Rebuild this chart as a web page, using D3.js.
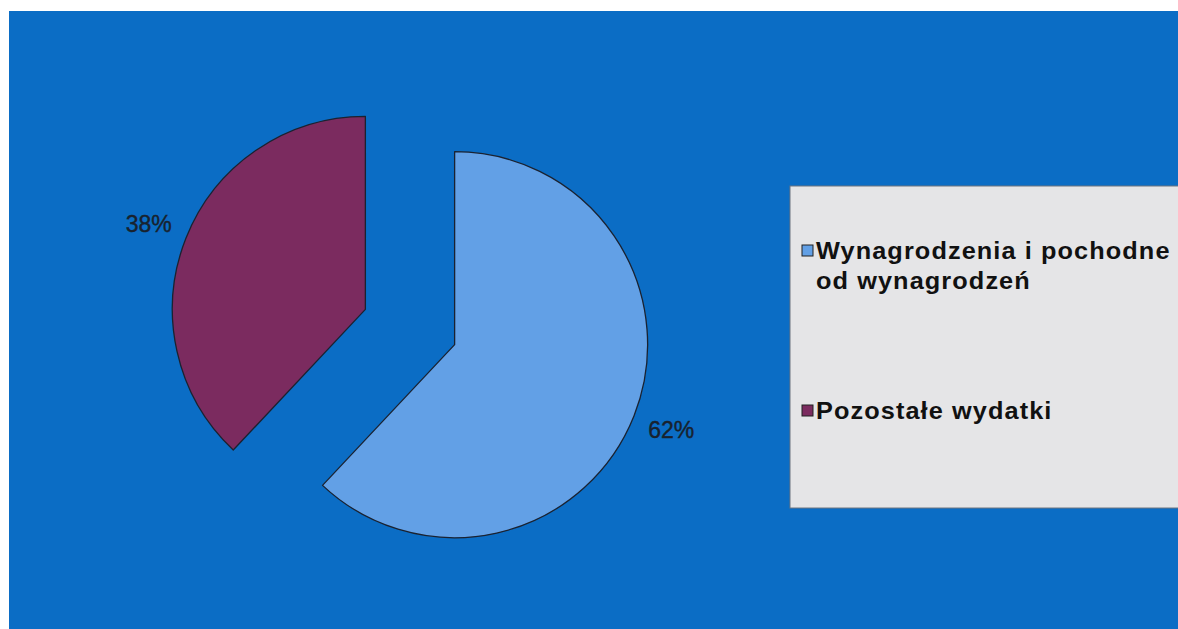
<!DOCTYPE html>
<html>
<head>
<meta charset="utf-8">
<script src="https://cdnjs.cloudflare.com/ajax/libs/d3/7.8.5/d3.min.js"></script>
<style>
  body { margin: 0; background: #fff; }
  svg { display: block; }
</style>
</head>
<body>
<div id="chart"></div>
<script>
// data
const categories = ['Wynagrodzenia i pochodne od wynagrodzeń', 'Pozostałe wydatki'];
const legendLines = [['Wynagrodzenia i pochodne', 'od wynagrodzeń'], ['Pozostałe wydatki']];
const values = [62, 38];
const colors = ['#62a0e6', '#7b2b5f'];

const width = 1178, height = 629;

const svg = d3.select('#chart')
    .append('svg')
    .attr('width', width)
    .attr('height', height)

// blue chart area
svg.append('rect')
    .attr('x', 9).attr('y', 11)
    .attr('width', width - 9).attr('height', height - 11)
    .attr('fill', '#0b6dc5')

const cx = 410, cy = 327
const radius = 193
const explode = 48
const labelR = 281

const pie = d3.pie().sort(null).value(d => d)
const arc = d3.arc().innerRadius(0).outerRadius(radius)
const arcs = pie(values)

const g = svg.append('g').attr('transform', `translate(${cx},${cy})`)

g.selectAll('path')
    .data(arcs)
  .enter().append('path')
    .attr('d', arc)
    .attr('transform', d => {
        const a = (d.startAngle + d.endAngle) / 2
        return `translate(${Math.sin(a) * explode},${-Math.cos(a) * explode})`
    })
    .attr('fill', (d, i) => colors[i])
    .attr('stroke', '#1b2230')
    .attr('stroke-width', 1.3)
    .attr('stroke-linejoin', 'round')

// percentage labels
g.selectAll('text.pct')
    .data(arcs)
  .enter().append('text')
    .attr('class', 'pct')
    .attr('x', d => Math.sin((d.startAngle + d.endAngle) / 2) * labelR)
    .attr('y', d => -Math.cos((d.startAngle + d.endAngle) / 2) * labelR)
    .attr('dy', '0.35em')
    .attr('text-anchor', 'middle')
    .style('font-family', 'Liberation Sans, Arial, sans-serif')
    .style('font-size', '23px')
    .style('fill', '#18222e')
    .style('stroke', '#18222e')
    .style('stroke-width', 0.4)
    .text(d => d.data + '%')

// legend
const legend = svg.append('g')

legend.append('rect')
    .attr('x', 790).attr('y', 186)
    .attr('width', 400).attr('height', 322)
    .attr('fill', '#e5e5e7')
    .attr('stroke', '#6d7480')
    .attr('stroke-width', 1)

const legendY = [259, 419]

categories.forEach((c, i) => {
    legend.append('rect')
        .attr('x', 802).attr('y', legendY[i] - 14)
        .attr('width', 11).attr('height', 11)
        .attr('fill', colors[i])
        .attr('stroke', '#222')
        .attr('stroke-width', 1)

    legendLines[i].forEach((line, j) => {
        legend.append('text')
            .attr('transform', `translate(816,${legendY[i] + j * 30}) scale(1.1,1)`)
            .style('font-family', 'Liberation Sans, Arial, sans-serif')
            .style('font-weight', 'bold')
            .style('font-size', '23px')
            .style('letter-spacing', '1px')
            .style('fill', '#111')
            .text(line)
    })
})
</script>
</body>
</html>
